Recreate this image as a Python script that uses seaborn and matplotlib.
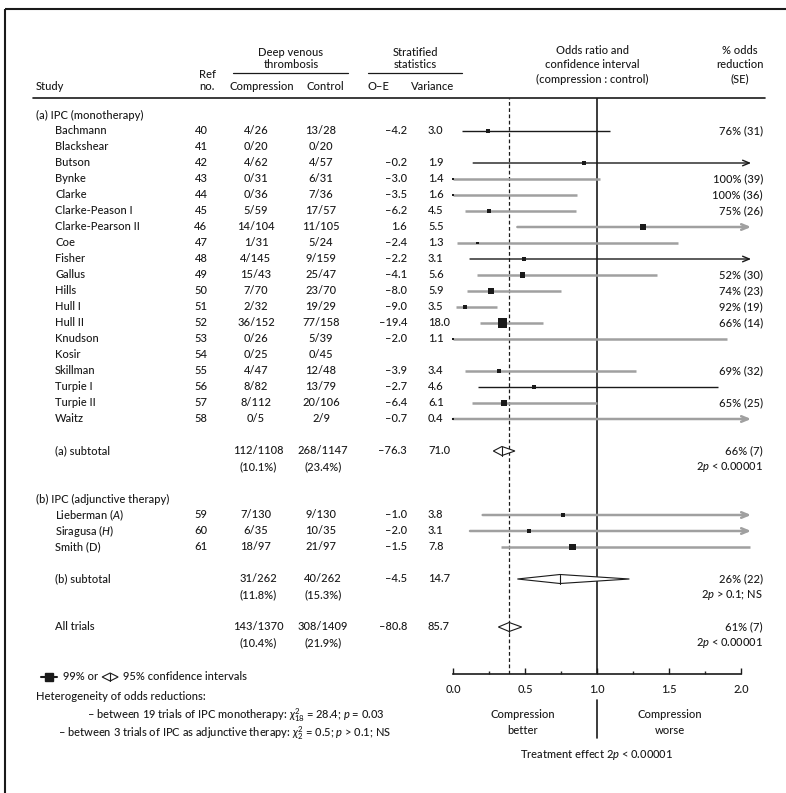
import numpy as np
import pandas as pd
import matplotlib
matplotlib.use("Agg")
import matplotlib.pyplot as plt
from matplotlib.patches import Polygon
import seaborn as sns

# ---------------- data ----------------
studies_a = ["Bachmann", "Blackshear", "Butson", "Bynke", "Clarke", "Clarke-Peason I",
             "Clarke-Pearson II", "Coe", "Fisher", "Gallus", "Hills", "Hull I", "Hull II",
             "Knudson", "Kosir", "Skillman", "Turpie I", "Turpie II", "Waitz"]
ref_a = list(range(40, 59))
comp_a = ["4/26", "0/20", "4/62", "0/31", "0/36", "5/59", "14/104", "1/31", "4/145", "15/43",
          "7/70", "2/32", "36/152", "0/26", "0/25", "4/47", "8/82", "8/112", "0/5"]
ctrl_a = ["13/28", "0/20", "4/57", "6/31", "7/36", "17/57", "11/105", "5/24", "9/159", "25/47",
          "23/70", "19/29", "77/158", "5/39", "0/45", "12/48", "13/79", "20/106", "2/9"]
oe_a = [-4.2, None, -0.2, -3.0, -3.5, -6.2, 1.6, -2.4, -2.2, -4.1, -8.0, -9.0, -19.4, -2.0,
        None, -3.9, -2.7, -6.4, -0.7]
var_a = [3.0, None, 1.9, 1.4, 1.6, 4.5, 5.5, 1.3, 3.1, 5.6, 5.9, 3.5, 18.0, 1.1, None, 3.4,
         4.6, 6.1, 0.4]
or_a = [0.245, np.nan, 0.91, 0.0, 0.0, 0.25, 1.32, 0.17, 0.495, 0.484, 0.264, 0.083, 0.343,
        0.0, np.nan, 0.319, 0.5625, 0.354, 0.0]
lo_a = [0.06, np.nan, 0.14, 0.0, 0.0, 0.083, 0.447, 0.025, 0.118, 0.165, 0.095, 0.021, 0.19,
        0.0, np.nan, 0.083, 0.176, 0.13, 0.0]
hi_a = [1.09, np.nan, np.inf, 1.02, 0.86, 0.854, np.inf, 1.56, np.inf, 1.42, 0.748, 0.303,
        0.627, 1.905, np.nan, 1.27, 1.84, 0.998, np.inf]
tone_a = ["k", "", "k", "g", "g", "g", "g", "g", "k", "g", "g", "g", "g", "g", "", "g", "k",
          "g", "g"]
pct_a = ["76% (31)", "", "", "100% (39)", "100% (36)", "75% (26)", "", "", "", "52% (30)",
         "74% (23)", "92% (19)", "66% (14)", "", "", "69% (32)", "", "65% (25)", ""]

studies_b = ["Lieberman ($\\it{A}$)", "Siragusa ($\\it{H}$)", "Smith (D)"]
ref_b = [59, 60, 61]
comp_b = ["7/130", "6/35", "18/97"]
ctrl_b = ["9/130", "10/35", "21/97"]
oe_b = [-1.0, -2.0, -1.5]
var_b = [3.8, 3.1, 7.8]
or_b = [0.766, 0.53, 0.83]
lo_b = [0.206, 0.118, 0.333]
hi_b = [np.inf, np.inf, 2.06]
tone_b = ["g", "g", "g"]
pct_b = ["", "", ""]

sub_labels = ["(a) subtotal", "(b) subtotal", "All trials"]
sub_comp = ["112/1108", "31/262", "143/1370"]
sub_comp_pct = ["(10.1%)", "(11.8%)", "(10.4%)"]
sub_ctrl = ["268/1147", "40/262", "308/1409"]
sub_ctrl_pct = ["(23.4%)", "(15.3%)", "(21.9%)"]
sub_oe = [-76.3, -4.5, -80.8]
sub_var = [71.0, 14.7, 85.7]
sub_or = [0.34, 0.743, 0.39]
sub_lo = [0.28, 0.447, 0.315]
sub_hi = [0.43, 1.225, 0.477]
sub_pct = ["66% (7)", "26% (22)", "61% (7)"]
sub_p = ["2$p$ < 0.00001", "2$p$ > 0.1; NS", "2$p$ < 0.00001"]

overall_or = 0.39
xticks = [0.0, 0.5, 1.0, 1.5, 2.0]
xtick_labels = ["0.0", "0.5", "1.0", "1.5", "2.0"]

# ---------------- style ----------------
sns.set_theme(style="white")
plt.rcParams['font.family'] = ['Lato', 'DejaVu Sans']
plt.rcParams['font.weight'] = 500
plt.rcParams['mathtext.fontset'] = 'custom'
plt.rcParams['mathtext.rm'] = 'Lato'
plt.rcParams['mathtext.it'] = 'Lato:italic'
plt.rcParams['mathtext.bf'] = 'Lato:bold'
FS = 8
GREY = "#a0a0a0"

W, H = 786, 793
fig = plt.figure(figsize=(W / 100, H / 100), dpi=100)
fig.patch.set_facecolor("white")
ax0 = fig.add_axes([0, 0, 1, 1], zorder=0)
ax0.set_xlim(0, W)
ax0.set_ylim(H, 0)
ax0.axis("off")
ax0.patch.set_alpha(0)

X0, X2 = 453, 741
YTOP, YAX = 98, 674
ax = fig.add_axes([X0 / W, 1 - YAX / H, (X2 - X0) / W, (YAX - YTOP) / H], zorder=2)
ax.patch.set_alpha(0)
ax.set_xlim(0, 2)
ax.set_ylim(YAX, YTOP)

ROW0, ROWH = 131, 16
rows_a = ROW0 + ROWH * np.arange(len(studies_a))
rows_b = ROW0 + ROWH * (24 + np.arange(len(studies_b)))
rows_sub = ROW0 + ROWH * np.array([20, 28, 31])
row_hdr_a = ROW0 - ROWH
row_hdr_b = ROW0 + ROWH * 23

# frame
ax0.plot([5, W], [9, 9], color="k", lw=1.5, solid_capstyle="butt")
ax0.plot([5, 5], [9, H], color="k", lw=1.5, solid_capstyle="butt")

# ---------------- headers ----------------
def t(x, y, s, ha="left", **kw):
    return ax0.text(x, y, s, ha=ha, va="center", fontsize=FS, color="k", **kw)

HY = 87
t(36, HY, "Study")
t(207, 74, "Ref", ha="center")
t(207, HY, "no.", ha="center")
t(291, 53, "Deep venous", ha="center")
t(291, 65, "thrombosis", ha="center")
ax0.plot([233, 348], [73, 73], color="k", lw=0.9)
t(262, HY, "Compression", ha="center")
t(325, HY, "Control", ha="center")
t(415, 53, "Stratified", ha="center")
t(415, 65, "statistics", ha="center")
ax0.plot([368, 462], [73, 73], color="k", lw=0.9)
t(378, HY, "O–E", ha="center")
t(433, HY, "Variance", ha="center")
t(592, 50, "Odds ratio and", ha="center")
t(592, 64, "confidence interval", ha="center")
t(592, 79, "(compression : control)", ha="center")
t(740, 50, "% odds", ha="center")
t(740, 64, "reduction", ha="center")
t(740, 79, "(SE)", ha="center")
ax0.plot([33, 765], [98, 98], color="k", lw=1.2)

# ---------------- table rows ----------------
def fmt(v):
    return "" if v is None else ("–%.1f" % abs(v) if v < 0 else "%.1f" % v)

t(36, row_hdr_a, "(a) IPC (monotherapy)")
t(36, row_hdr_b, "(b) IPC (adjunctive therapy)")
for names, refs, comps, ctrls, oes, vrs, pcts, rows in [
        (studies_a, ref_a, comp_a, ctrl_a, oe_a, var_a, pct_a, rows_a),
        (studies_b, ref_b, comp_b, ctrl_b, oe_b, var_b, pct_b, rows_b)]:
    for i, y in enumerate(rows):
        t(55, y, names[i])
        t(201, y, str(refs[i]), ha="center")
        t(256, y, comps[i], ha="center")
        t(321, y, ctrls[i], ha="center")
        t(407, y, fmt(oes[i]), ha="right")
        t(428, y, fmt(vrs[i]))
        if pcts[i]:
            t(763, y, pcts[i], ha="right")

for i, y in enumerate(rows_sub):
    t(55, y, sub_labels[i])
    t(258, y, sub_comp[i], ha="center")
    t(258, y + ROWH, sub_comp_pct[i], ha="center")
    t(323, y, sub_ctrl[i], ha="center")
    t(323, y + ROWH, sub_ctrl_pct[i], ha="center")
    t(407, y, fmt(sub_oe[i]), ha="right")
    t(428, y, fmt(sub_var[i]))
    t(763, y, sub_pct[i], ha="right")
    t(763, y + ROWH, sub_p[i], ha="right")

# ---------------- forest plot ----------------
ARROW_END = 2.07
ax.axvline(1.0, color="k", lw=1.2, zorder=1)
ax.axvline(overall_or, color="k", lw=0.9, ls=(0, (3, 2)), zorder=1)

for ors, los, his, tones, rows in [(or_a, lo_a, hi_a, tone_a, rows_a),
                                   (or_b, lo_b, hi_b, tone_b, rows_b)]:
    for i, y in enumerate(rows):
        if np.isnan(ors[i]):
            continue
        col = "k" if tones[i] == "k" else GREY
        lw = 1.0 if tones[i] == "k" else 1.8
        if np.isinf(his[i]):
            ax.annotate("", xy=(ARROW_END, y), xytext=(los[i], y),
                        arrowprops=dict(arrowstyle="->,head_length=0.6,head_width=0.25",
                                        color=col, lw=lw,
                                        mutation_scale=8, shrinkA=0, shrinkB=0),
                        annotation_clip=False, zorder=3)
        else:
            ax.plot([los[i], his[i]], [y, y], color=col, lw=lw, zorder=3,
                    solid_capstyle="butt", clip_on=False)

pts = pd.DataFrame({
    "or": list(or_a) + list(or_b),
    "row": list(rows_a) + list(rows_b),
    "var": [v if v is not None else np.nan for v in var_a] + list(var_b),
}).dropna()
sns.scatterplot(data=pts, x="or", y="row", size="var", sizes=(1.5, 45.0),
                size_norm=(0.4, 18.0), marker="s", color="k", linewidth=0,
                legend=False, ax=ax, zorder=5, clip_on=False)

DH = 4.5
for i, y in enumerate(rows_sub):
    poly = Polygon([(sub_lo[i], y), (sub_or[i], y - DH), (sub_hi[i], y), (sub_or[i], y + DH)],
                   closed=True, facecolor="white", edgecolor="k", lw=0.8, zorder=6)
    ax.add_patch(poly)
    ax.plot([sub_or[i], sub_or[i]], [y - DH, y + DH], color="k", lw=0.8, zorder=7)

ax.set_xlabel("")
ax.set_ylabel("")
for s in ["left", "right", "top"]:
    ax.spines[s].set_visible(False)
ax.spines["bottom"].set_color("k")
ax.spines["bottom"].set_linewidth(1.2)
ax.set_yticks([])
ax.set_xticks(xticks)
ax.set_xticklabels(xtick_labels, fontsize=FS)
ax.set_xticks([0.25, 0.75, 1.25, 1.75], minor=True)
ax.tick_params(axis="x", which="major", direction="in", length=4, width=1.0, pad=7,
               bottom=True, colors="k")
ax.tick_params(axis="x", which="minor", direction="in", length=2, width=1.0, bottom=True)

# ---------------- bottom annotations ----------------
LY = 677
ax0.plot([41, 57], [LY, LY], color="k", lw=1.5)
ax0.plot([49], [LY], marker="s", color="k", ms=6, lw=0)
txt = t(63, LY, "99% or")
fig.canvas.draw()
bb = txt.get_window_extent().transformed(ax0.transData.inverted())
dx0 = max(bb.x0, bb.x1) + 4
ax0.add_patch(Polygon([(dx0, LY), (dx0 + 8, LY - 4), (dx0 + 16, LY), (dx0 + 8, LY + 4)],
                      closed=True, facecolor="white", edgecolor="k", lw=0.8))
ax0.plot([dx0 + 8, dx0 + 8], [LY - 4, LY + 4], color="k", lw=0.8)
t(dx0 + 21, LY, "95% confidence intervals")
t(36, 697, "Heterogeneity of odds reductions:")
t(87, 715, "– between 19 trials of IPC monotherapy: $\\chi^2_{18}$ = 28.4; $p$ = 0.03")
t(58, 733, "– between 3 trials of IPC as adjunctive therapy: $\\chi^2_{2}$ = 0.5; $p$ > 0.1; NS")

t(523, 715, "Compression", ha="center")
t(523, 731, "better", ha="center")
t(670, 715, "Compression", ha="center")
t(670, 731, "worse", ha="center")
ax0.plot([597, 597], [700, 738], color="k", lw=1.2)
t(597, 755, "Treatment effect 2$p$ < 0.00001", ha="center")

fig.savefig("out.png", dpi=100, facecolor="white")
